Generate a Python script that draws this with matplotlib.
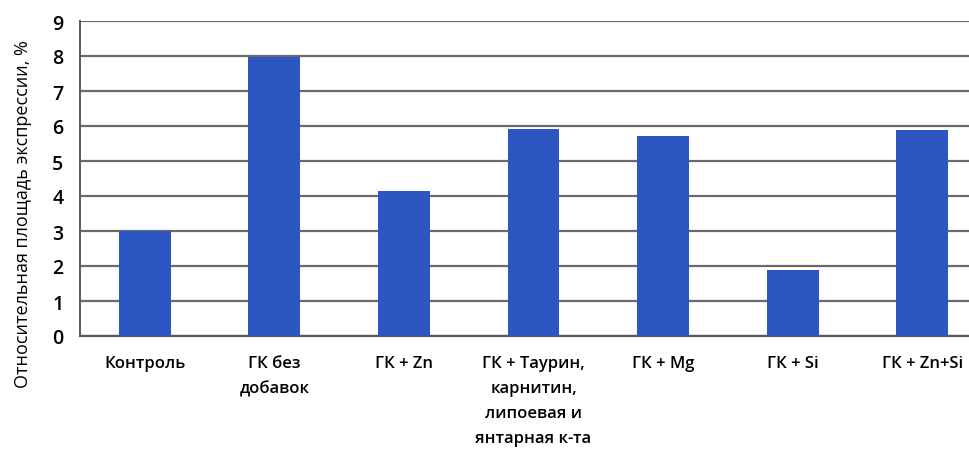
import matplotlib.pyplot as plt

# Data
categories = ['Контроль', 'ГК без\nдобавок', 'ГК + Zn',
              'ГК + Таурин,\nкарнитин,\nлипоевая и\nянтарная к-та',
              'ГК + Mg', 'ГК + Si', 'ГК + Zn+Si']
values = [3.0, 7.97, 4.13, 5.91, 5.71, 1.88, 5.88]
yticks = list(range(0, 10))

plt.rcParams['font.family'] = ['Open Sans', 'DejaVu Sans']

fig = plt.figure(figsize=(9.69, 4.6), dpi=100)
ax = fig.add_axes([80 / 969, 123 / 460, 907 / 969, 315 / 460])

x = range(len(categories))
ax.bar(x, values, width=0.4, color='#2d56c2', zorder=3)

ax.set_xlim(-0.5, len(categories) - 0.5)
ax.set_ylim(0, 9)
ax.set_yticks(yticks)
ax.set_xticks(list(x))
ax.set_xticklabels(categories, fontsize=12, fontweight='semibold',
                   linespacing=1.75, va='top')
ax.tick_params(axis='x', length=0, pad=14)
ax.tick_params(axis='y', length=0, pad=12, labelsize=14)
for lbl in ax.get_yticklabels():
    lbl.set_fontweight('semibold')

ax.grid(axis='y', color='#6a6a6a', linewidth=1.6, zorder=0)
for side in ['top', 'right']:
    ax.spines[side].set_visible(False)
ax.spines['left'].set_color('#5a5a5a')
ax.spines['left'].set_linewidth(1.4)
ax.spines['bottom'].set_color('#5a5a5a')
ax.spines['bottom'].set_linewidth(1.6)

ax.set_ylabel('Относительная площадь экспрессии, %', fontsize=13)
ax.yaxis.set_label_coords(-0.053, 0.39)

fig.savefig('out.png', dpi=100)
